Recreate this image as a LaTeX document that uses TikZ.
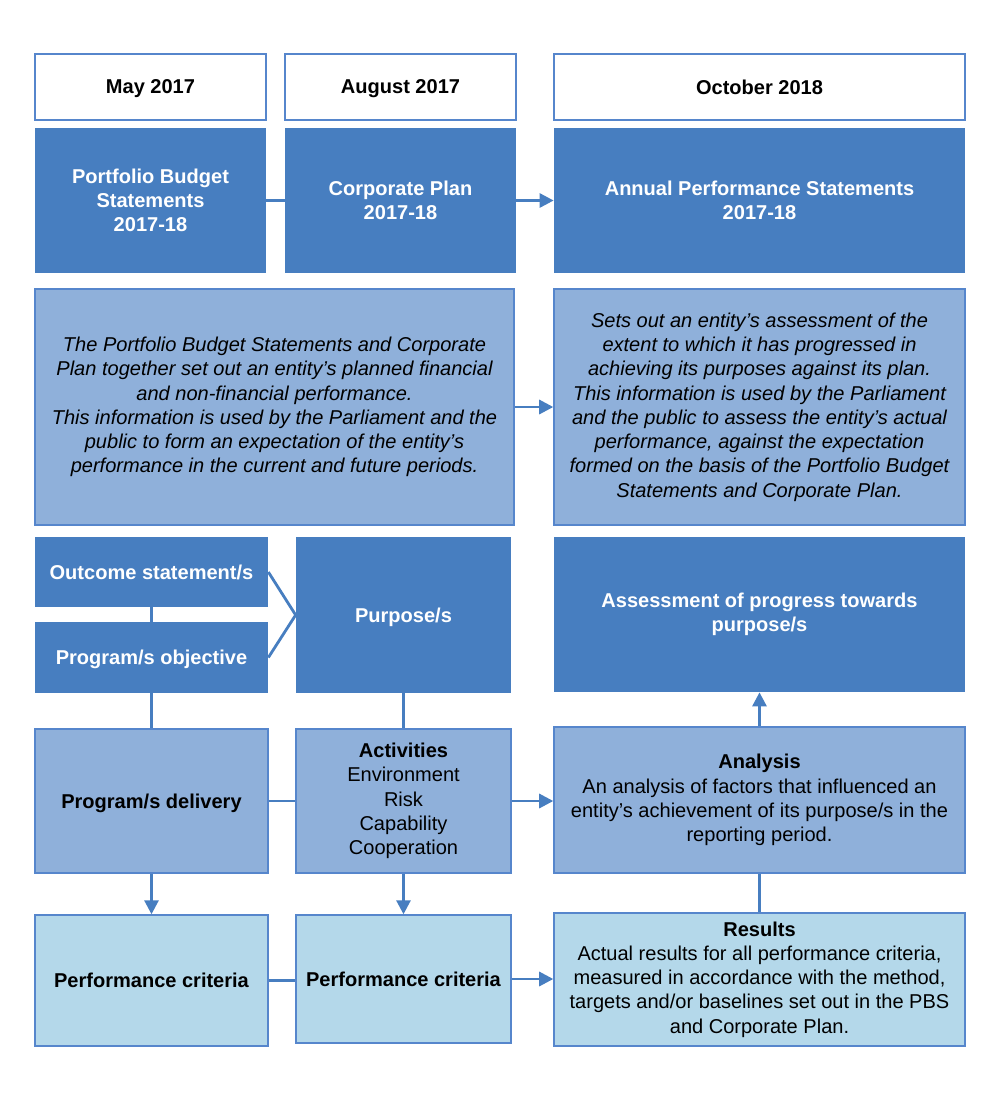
\documentclass[tikz,border=0pt]{standalone}
\usepackage{fontspec}
\setmainfont{Liberation Sans}
\usetikzlibrary{arrows.meta}
\definecolor{darkblue}{RGB}{71,126,192}
\definecolor{midblue}{RGB}{143,176,218}
\definecolor{paleblue}{RGB}{180,216,234}
\definecolor{edgeblue}{RGB}{86,134,204}
\begin{document}
\begin{tikzpicture}[x=0.02cm,y=-0.02cm,
	every node/.style={font=\fontsize{11.4}{13.8}\selectfont, align=center, inner sep=0pt},
	wh/.style 2 args={minimum width=#1*0.02cm, minimum height=#2*0.02cm},
	oneline/.style={text depth=0pt},
	head/.style={oneline, draw=edgeblue, line width=.7pt, fill=white, font=\fontsize{11.4}{13.8}\selectfont\bfseries},
	dark/.style={fill=darkblue, text=white, font=\fontsize{11.4}{13.8}\selectfont\bfseries},
	mid/.style={draw=edgeblue, line width=.8pt, fill=midblue},
	pale/.style={draw=edgeblue, line width=.8pt, fill=paleblue},
	link/.style={draw=darkblue, line width=1.6pt},
	arrow/.style={link, -{Triangle[length=8pt,width=8pt]}}]
	\useasboundingbox (0,0) rectangle (1000,1100);
	% dates
	\node[head, wh={231}{66}] (may) at (150.5,87) {May 2017};
	\node[head, wh={231}{66}] (aug) at (400.5,87) {August 2017};
	\node[head, wh={411}{66}] (oct) at (759.5,87) {October 2018};
	% documents
	\node[dark, wh={231}{145}] (pbs) at (150.5,200.5) {Portfolio Budget\\Statements\\2017-18};
	\node[dark, wh={231}{145}] (corp) at (400.5,200.5) {Corporate Plan\\2017-18};
	\node[dark, wh={411}{145}] (aps) at (759.5,200.5) {Annual Performance Statements\\2017-18};
	% what they do
	\node[mid, wh={479}{236}, font=\fontsize{11.4}{13.8}\selectfont\itshape] (expect) at (274.5,407) {The Portfolio Budget Statements and Corporate\\Plan together set out an entity’s planned financial\\and non-financial performance.\\This information is used by the Parliament and the\\public to form an expectation of the entity’s\\performance in the current and future periods.};
	\node[mid, wh={411}{236}, font=\fontsize{11.4}{13.8}\selectfont\itshape] (assess) at (759.5,407) {Sets out an entity’s assessment of the\\extent to which it has progressed in\\achieving its purposes against its plan.\\This information is used by the Parliament\\and the public to assess the entity’s actual\\performance, against the expectation\\formed on the basis of the Portfolio Budget\\Statements and Corporate Plan.};
	% purposes
	\node[dark, oneline, wh={233}{70}] (outcome) at (151.5,572) {Outcome statement/s};
	\node[dark, oneline, wh={233}{71}] (progobj) at (151.5,657.5) {Program/s objective};
	\node[dark, oneline, wh={215}{156}] (purpose) at (403.5,615) {Purpose/s};
	\node[dark, wh={411}{155}] (progress) at (759.5,614.5) {Assessment of progress towards\\purpose/s};
	% delivery
	\node[mid, oneline, wh={233}{144}, font=\fontsize{11.4}{13.8}\selectfont\bfseries] (delivery) at (151.5,801) {Program/s delivery};
	\node[mid, wh={215}{144}] (activities) at (403.5,801) {\textbf{Activities}\\Environment\\Risk\\Capability\\Cooperation};
	\node[mid, wh={411}{146}] (analysis) at (759.5,800) {\textbf{Analysis}\\An analysis of factors that influenced an\\entity’s achievement of its purpose/s in the\\reporting period.};
	% criteria
	\node[pale, oneline, wh={233}{131}, font=\fontsize{11.4}{13.8}\selectfont\bfseries] (critA) at (151.5,980.5) {Performance criteria};
	\node[pale, oneline, wh={215}{128}, font=\fontsize{11.4}{13.8}\selectfont\bfseries] (critB) at (403.5,979) {Performance criteria};
	\node[pale, wh={411}{133}] (results) at (759.5,979.5) {\textbf{Results}\\Actual results for all performance criteria,\\measured in accordance with the method,\\targets and/or baselines set out in the PBS\\and Corporate Plan.};
	% connectors
	\draw[link] (pbs.east) -- (corp.west);
	\draw[arrow] (corp.east) -- (aps.west);
	\draw[arrow] (expect.east) -- (assess.west);
	\draw[link] (outcome.south) -- (progobj.north);
	\draw[link] (outcome.east) -- (purpose.west);
	\draw[link] (progobj.east) -- (purpose.west);
	\draw[link] (progobj.south) -- (delivery.north);
	\draw[link] (purpose.south) -- (activities.north);
	\draw[link] (delivery.east) -- (activities.west);
	\draw[arrow] (activities.east) -- (activities.east -| analysis.west);
	\draw[arrow] (analysis.north) -- (progress.south);
	\draw[arrow] (delivery.south) -- (critA.north);
	\draw[arrow] (activities.south) -- (critB.north);
	\draw[link] (critA.east) -- (critA.east -| critB.west);
	\draw[arrow] (critB.east) -- (critB.east -| results.west);
	\draw[link] (results.north) -- (analysis.south);
\end{tikzpicture}
\end{document}
